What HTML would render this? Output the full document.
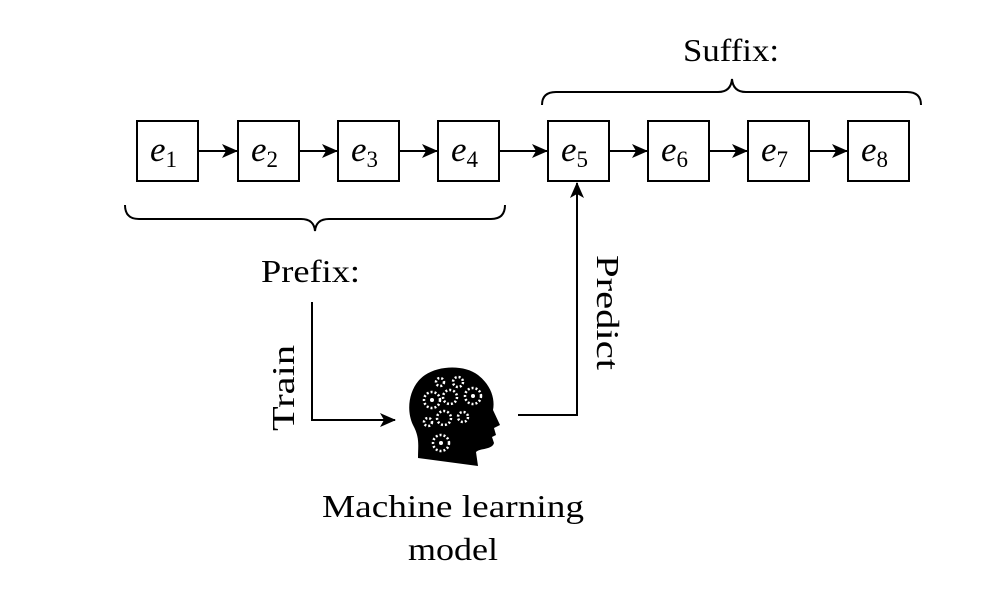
<!DOCTYPE html>
<html><head><style>
body{margin:0;background:#fff;}
svg text{font-family:"Liberation Serif","DejaVu Serif",serif;fill:#000;}
</style></head><body>
<svg width="1003" height="606" viewBox="0 0 1003 606" xmlns="http://www.w3.org/2000/svg">
<defs>
<marker id="b" markerWidth="16" markerHeight="16" refX="15" refY="8" orient="auto" markerUnits="userSpaceOnUse" viewBox="0 0 16 16">
<path d="M0,1 L16,8 L0,15 L4,8 Z" fill="#000"/>
</marker>
</defs>
<g fill="none" stroke="#000" stroke-width="2">
<rect x="137" y="121" width="61" height="60"/>
<rect x="238" y="121" width="61" height="60"/>
<rect x="338" y="121" width="61" height="60"/>
<rect x="438" y="121" width="61" height="60"/>
<rect x="548" y="121" width="61" height="60"/>
<rect x="648" y="121" width="61" height="60"/>
<rect x="748" y="121" width="61" height="60"/>
<rect x="848" y="121" width="61" height="60"/>
<line x1="199" y1="151" x2="237" y2="151" marker-end="url(#b)"/>
<line x1="300" y1="151" x2="337" y2="151" marker-end="url(#b)"/>
<line x1="400" y1="151" x2="437" y2="151" marker-end="url(#b)"/>
<line x1="500" y1="151" x2="547" y2="151" marker-end="url(#b)"/>
<line x1="610" y1="151" x2="647" y2="151" marker-end="url(#b)"/>
<line x1="710" y1="151" x2="747" y2="151" marker-end="url(#b)"/>
<line x1="810" y1="151" x2="847" y2="151" marker-end="url(#b)"/>
<path d="M125,205 Q125,219 139,219 L301,219 Q314,219 315,231 Q316,219 329,219 L491,219 Q505,219 505,205"/>
<path d="M542,105 Q542,92 556,92 L718,92 Q731,92 732,79 Q733,92 746,92 L907,92 Q921,92 921,105"/>
<polyline points="312,302 312,420 395,420" marker-end="url(#b)"/>
<polyline points="518,415 577,415 577,183" marker-end="url(#b)"/>
</g>
<g font-size="35" font-style="italic">
<text x="150" y="161">e<tspan font-size="23" font-style="normal" dy="6">1</tspan></text>
<text x="251" y="161">e<tspan font-size="23" font-style="normal" dy="6">2</tspan></text>
<text x="351" y="161">e<tspan font-size="23" font-style="normal" dy="6">3</tspan></text>
<text x="451" y="161">e<tspan font-size="23" font-style="normal" dy="6">4</tspan></text>
<text x="561" y="161">e<tspan font-size="23" font-style="normal" dy="6">5</tspan></text>
<text x="661" y="161">e<tspan font-size="23" font-style="normal" dy="6">6</tspan></text>
<text x="761" y="161">e<tspan font-size="23" font-style="normal" dy="6">7</tspan></text>
<text x="861" y="161">e<tspan font-size="23" font-style="normal" dy="6">8</tspan></text>
</g>
<g font-size="32">
<text x="683" y="61" textLength="96" lengthAdjust="spacingAndGlyphs">Suffix:</text>
<text x="261" y="282" textLength="99" lengthAdjust="spacingAndGlyphs">Prefix:</text>
<text x="322" y="517" textLength="262" lengthAdjust="spacingAndGlyphs">Machine learning</text>
<text x="408" y="560" textLength="90" lengthAdjust="spacingAndGlyphs">model</text>
<text transform="translate(294,431) rotate(-90)" textLength="86" lengthAdjust="spacingAndGlyphs">Train</text>
<text transform="translate(597,255) rotate(90)" textLength="115" lengthAdjust="spacingAndGlyphs">Predict</text>
</g>
<path d="M418,458 C418,445 420,438 413,425 C405,408 410,385 425,375 C440,365 465,365 478,375 C492,386 495,400 493,410 L500,425 L494,428 L496,435 L492,437 L494,443 C492,450 480,448 476,452 L478,466 Z" fill="#000"/>
<g fill="none" stroke="#fff" stroke-width="2.5" stroke-dasharray="2 2">
<circle cx="473" cy="396" r="8"/>
<circle cx="432" cy="400" r="8"/>
<circle cx="450" cy="397" r="7"/>
<circle cx="444" cy="418" r="7"/>
<circle cx="441" cy="443" r="8"/>
<circle cx="458" cy="382" r="5"/>
<circle cx="440" cy="382" r="4"/>
<circle cx="463" cy="417" r="5"/>
<circle cx="428" cy="422" r="4"/>
</g>
<g fill="#fff"><circle cx="473" cy="396" r="2"/><circle cx="432" cy="400" r="2"/><circle cx="441" cy="443" r="2"/></g>
</svg>
</body></html>
